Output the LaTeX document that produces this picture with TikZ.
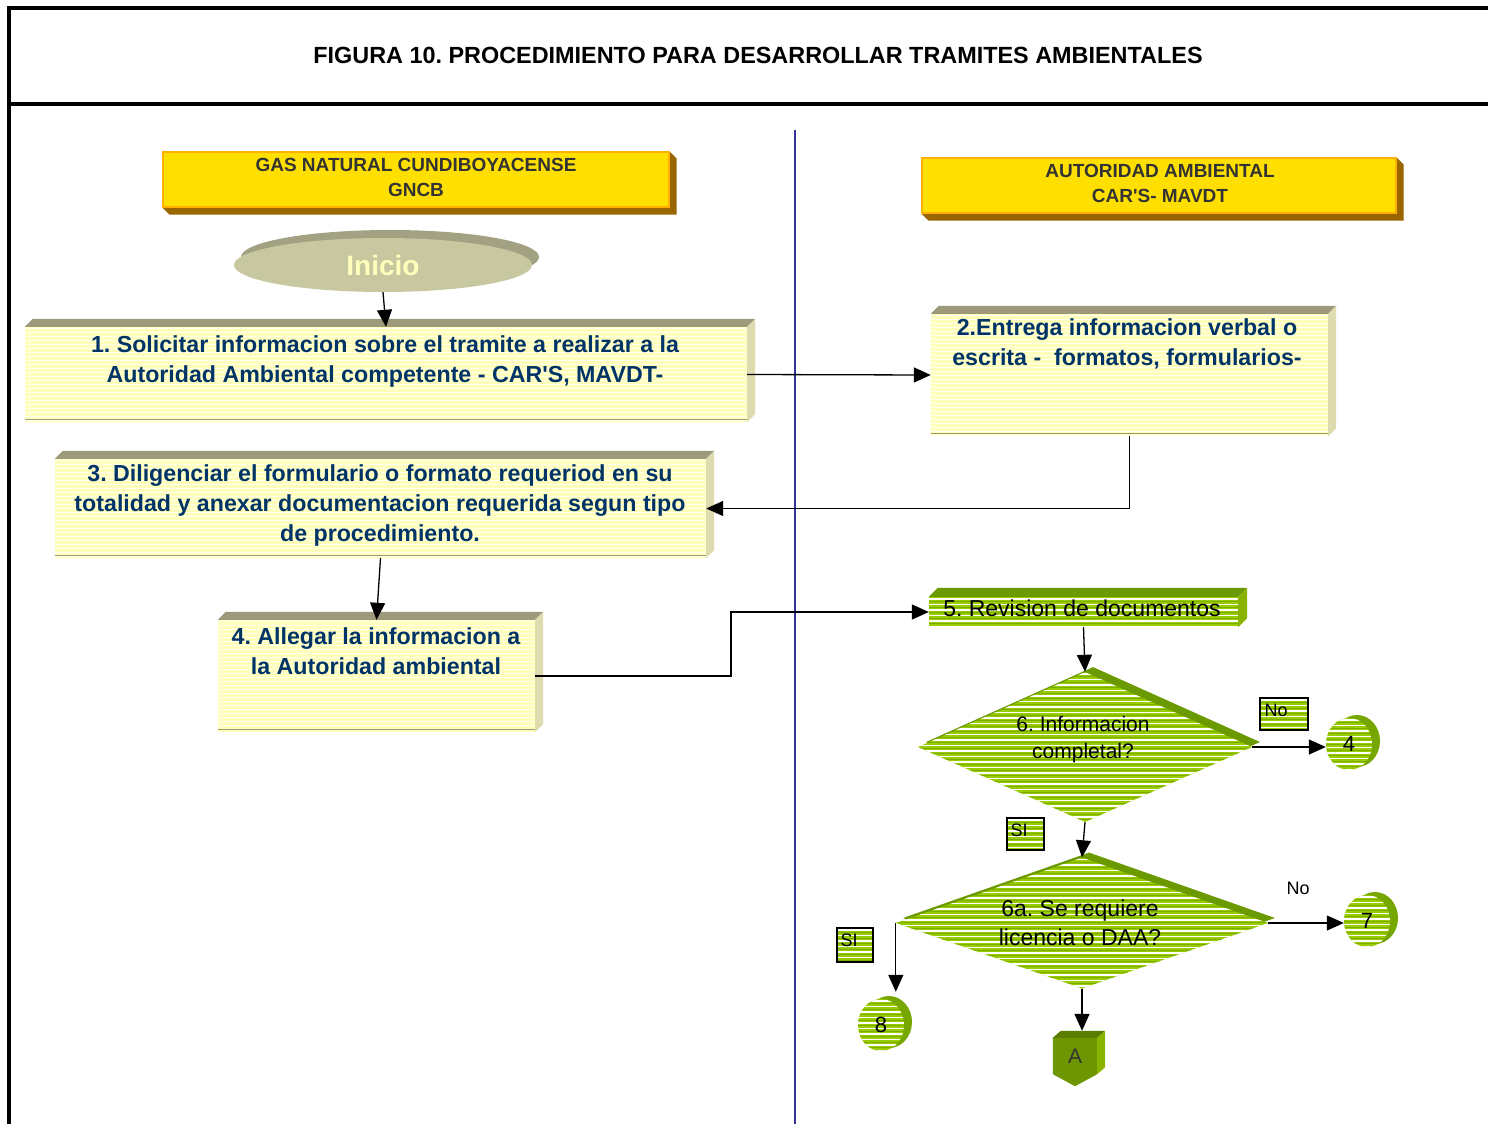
\documentclass[tikz,border=0pt]{standalone}
\usepackage{fontspec}
\setmainfont{Liberation Sans}
\usetikzlibrary{arrows.meta,shapes.geometric,calc,backgrounds}

\definecolor{navy}{HTML}{003366}
\definecolor{hdrtxt}{HTML}{333333}
\definecolor{gold}{HTML}{FFDF00}
\definecolor{goldedge}{HTML}{FFB000}
\definecolor{brownshadow}{HTML}{996600}
\definecolor{cream}{HTML}{FFFFBB}
\definecolor{creamline}{HTML}{FFFFEE}
\definecolor{creamtop}{HTML}{9C9A7A}
\definecolor{creamside}{HTML}{DEDCAE}
\definecolor{khaki}{HTML}{C8C8A0}
\definecolor{khakidark}{HTML}{A2A282}
\definecolor{lime}{HTML}{99CC00}
\definecolor{limedark}{HTML}{6B9900}
\definecolor{limeside}{HTML}{88B400}
\definecolor{blockgreen}{HTML}{6E9600}
\definecolor{blocktop}{HTML}{5A7D00}
\definecolor{divider}{HTML}{333399}

\newcommand\fs[2]{\fontsize{#1}{#2}\selectfont}
\newcommand\apos{\textquotesingle}

% raised top and right faces of a box node
\newcommand\extrudebox[4]{%
  \fill[#3] (#1.north west) -- ++(#2pt,#2pt) -- ([shift={(#2pt,#2pt)}]#1.north east) -- (#1.north east) -- cycle;
  \fill[#4] (#1.north east) -- ++(#2pt,#2pt) -- ([shift={(#2pt,#2pt)}]#1.south east) -- (#1.south east) -- cycle;}

\tikzset{
  creamlines/.style={path picture={\foreach \k in {0,...,40}{%
      \draw[creamline,line width=1pt] ([yshift={-\k*4pt-1.5pt}]path picture bounding box.north west) -- ([yshift={-\k*4pt-1.5pt}]path picture bounding box.north east);}}},
  limelines/.style={path picture={\foreach \k in {0,...,32}{%
      \draw[white,line width=1.4pt] ([yshift={-\k*5.5pt-2pt}]path picture bounding box.north west) -- ([yshift={-\k*5.5pt-2pt}]path picture bounding box.north east);
      \draw[limedark!60!lime,line width=0.5pt] ([yshift={-\k*5.5pt-4.3pt}]path picture bounding box.north west) -- ([yshift={-\k*5.5pt-4.3pt}]path picture bounding box.north east);}}},
  cbox/.style={rectangle, fill=cream, creamlines, inner sep=0pt},
  gbox/.style={rectangle, fill=lime, limelines, inner sep=0pt},
  hdr/.style={rectangle, fill=gold, draw=goldedge, line width=1.2pt, inner sep=0pt},
  btxt/.style={font=\bfseries\fs{23.2}{30}, text=navy, align=center},
  htxt/.style={font=\bfseries\fs{19}{25}, text=hdrtxt, align=center},
  gtxt/.style={font=\fs{23}{29}, align=center},
  dtxt/.style={font=\fs{21}{27}, align=center},
  arr/.style={line width=1.3pt, -{Triangle[length=17pt,width=15pt]}},
  tag/.style={rectangle, draw=black, line width=1.3pt, fill=lime, limelines, inner sep=0pt},
  tagtxt/.style={font=\fs{18}{20}},
  disc/.style={ellipse, fill=lime, limelines, inner sep=0pt, minimum width=46pt, minimum height=52pt, font=\fs{22}{24}},
  discback/.style={ellipse, fill=limedark!75!lime, inner sep=0pt, minimum width=46pt, minimum height=52pt},
}

\begin{document}
\frenchspacing
\begin{tikzpicture}[x=1pt, y=-1pt]
\useasboundingbox (0,0) rectangle (1488,1124);

% frame and title
\draw[line width=4pt] (1488,8) -- (9,8) -- (9,1124);
\draw[line width=4pt] (9,104) -- (1488,104);
\node[font=\bfseries\fs{23.4}{26}] (title) at (758,55) {FIGURA 10. PROCEDIMIENTO PARA DESARROLLAR TRAMITES AMBIENTALES};

% lane divider
\draw[divider, line width=1.6pt] (795,130) -- (795,1124);

% lane headers
\node[hdr, minimum width=506pt, minimum height=55pt] (hl) at (416,179.5) {};
\node[hdr, minimum width=474pt, minimum height=55pt] (hr) at (1159,185.5) {};
\node[htxt] (hltxt) at (416,177.5) {GAS NATURAL CUNDIBOYACENSE\\GNCB};
\node[htxt] (hrtxt) at (1160,183.5) {AUTORIDAD AMBIENTAL\\CAR\apos S- MAVDT};

% start
\node[ellipse, fill=khakidark, minimum width=298pt, minimum height=54pt, inner sep=0pt] (inicioback) at (390,257) {};
\node[ellipse, fill=khaki, minimum width=298pt, minimum height=54pt, inner sep=0pt,
      font=\bfseries\fs{28}{30}, text=cream] (inicio) at (383,265) {Inicio};

% process boxes
\node[cbox, minimum width=722pt, minimum height=95pt] (b1) at (386,374.5) {};
\node[cbox, minimum width=397pt, minimum height=122pt] (b2) at (1129.5,375) {};
\node[cbox, minimum width=651pt, minimum height=99pt] (b3) at (380.5,508.5) {};
\node[cbox, minimum width=317pt, minimum height=112pt] (b4) at (376.5,676) {};
\node[gbox, minimum width=309pt, minimum height=30pt] (b5) at (1083.5,612) {};

\node[btxt] (b1txt) at (385,361) {1. Solicitar informacion sobre el tramite a realizar a la\\Autoridad Ambiental competente - CAR\apos S, MAVDT-};
\node[btxt] (b2txt) at (1127,344) {2.Entrega informacion verbal o\\escrita -~ formatos, formularios-};
\node[btxt] (b3txt) at (380,505) {3. Diligenciar el formulario o formato requeriod en su\\totalidad y anexar documentacion requerida segun tipo\\de procedimiento.};
\node[btxt] (b4txt) at (376,651) {4. Allegar la informacion a\\la Autoridad ambiental};
\node[gtxt] (b5txt) at (1082,608) {5. Revision de documentos};

% decisions
\node[diamond, fill=limedark, minimum width=334pt, minimum height=150pt, inner sep=0pt] (d1back) at (1093,742) {};
\node[diamond, fill=lime, limelines, minimum width=334pt, minimum height=150pt, inner sep=0pt] (d1) at (1085,747) {};
\node[dtxt] (d1txt) at (1083,740) {6. Informacion\\completal?};

\node[diamond, fill=limedark, minimum width=372pt, minimum height=131pt, inner sep=0pt] (d2back) at (1089,918) {};
\node[diamond, fill=lime, limelines, minimum width=372pt, minimum height=131pt, inner sep=0pt] (d2) at (1082,923) {};
\node[gtxt] (d2txt) at (1080,922.5) {6a. Se requiere\\licencia o DAA?};

% connectors to other pages
\node[discback] (c4back) at (1357,741) {};
\node[disc] (c4) at (1349,744) {4};
\node[discback] (c7back) at (1375,918) {};
\node[disc] (c7) at (1367,921) {7};
\node[discback] (c8back) at (889,1022) {};
\node[disc] (c8) at (881,1025) {8};

\node[rectangle, minimum width=44pt, minimum height=36pt, inner sep=0pt, text=hdrtxt, font=\fs{21}{24}] (aA) at (1075,1056) {A};
\coordinate (atop) at ([yshift=7pt]aA.north);

% answer tags
\node[tag, minimum width=48pt, minimum height=32pt] (tno1) at (1284,714) {};
\node[tagtxt] (tno1txt) at (1276,710) {No};
\node[tag, minimum width=37pt, minimum height=32pt] (tsi1) at (1025.5,834) {};
\node[tagtxt] (tsi1txt) at (1019,830) {SI};
\node[tag, minimum width=36pt, minimum height=34pt] (tsi2) at (855,945) {};
\node[tagtxt] (tsi2txt) at (849,940) {SI};
\node[tagtxt] (no2) at (1298,888) {No};

% raised faces, behind everything
\begin{pgfonlayer}{background}
  \fill[white] (0,0) rectangle (1488,1124);
  \fill[brownshadow] (hl.south west) -- ++(7pt,-7pt) -- ([shift={(7pt,-7pt)}]hl.south east) -- ([shift={(7pt,-7pt)}]hl.north east) -- (hl.north east) -- cycle;
  \fill[brownshadow] (hr.south west) -- ++(7pt,-7pt) -- ([shift={(7pt,-7pt)}]hr.south east) -- ([shift={(7pt,-7pt)}]hr.north east) -- (hr.north east) -- cycle;
  \extrudebox{b1}{8}{creamtop}{creamside}
  \extrudebox{b2}{8}{creamtop}{creamside}
  \extrudebox{b3}{8}{creamtop}{creamside}
  \extrudebox{b4}{8}{creamtop}{creamside}
  \extrudebox{b5}{9}{limedark}{limeside}
  % off-page connector block
  \fill[blockgreen] (aA.north west) -- (aA.north east) -- (aA.south east) -- ([yshift=-12pt]aA.south) -- (aA.south west) -- cycle;
  \fill[blocktop] (aA.north west) -- ++(8pt,7pt) -- ([shift={(8pt,7pt)}]aA.north east) -- (aA.north east) -- cycle;
  \fill[limeside] (aA.north east) -- ++(8pt,7pt) -- ([shift={(8pt,7pt)}]aA.south east) -- (aA.south east) -- cycle;
\end{pgfonlayer}

% bottom edge lines of the cream boxes
\foreach \b in {b1,b2,b3,b4}{\draw[creamtop, line width=0.8pt] ([yshift=3pt]\b.south west) -- ([yshift=3pt]\b.south east);}

% flow
\draw[arr] (inicio.south) -- (b1.north);
\draw[arr] (b1.east) -- (b2.west);
\draw[arr] (b2.south) |- (b3.east);
\draw[arr] (b3.south) -- (b4.north);
\coordinate (jog) at (731,676);
\draw[arr] (b4.east) -- (jog) |- (b5.west);
\draw[arr] (b5.south) -- (d1.north);
\draw[arr] (d1.east) -- (d1.east -| c4.west);
\draw[arr] (d1.south) -- (d2.north);
\draw[arr] (d2.east) -- (d2.east -| c7.west);
\draw[arr, shorten >=7pt] (d2.west) -- (d2.west |- c8.north);
\draw[arr] (d2.south) -- (d2.south |- atop);
\end{tikzpicture}
\end{document}
